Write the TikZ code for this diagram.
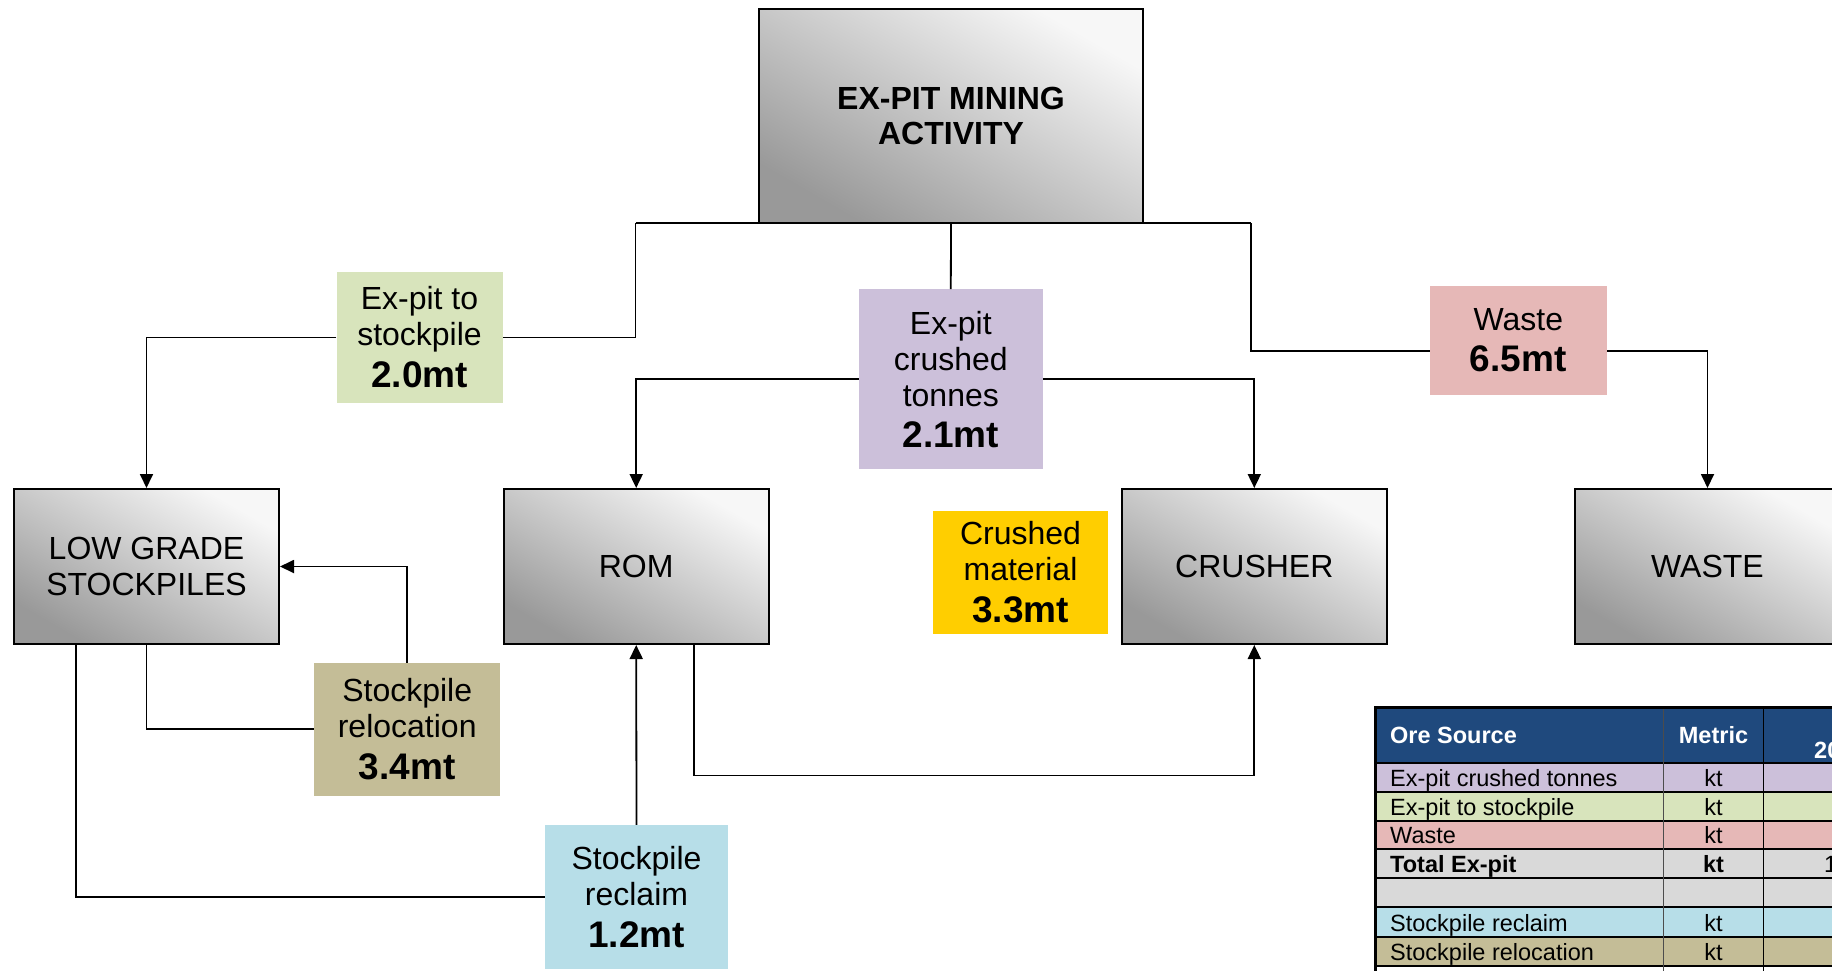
\documentclass[tikz,border=0pt]{standalone}
\usepackage{fontspec}
\setmainfont{Liberation Sans}
\usetikzlibrary{arrows.meta,calc}
\definecolor{cPurple}{RGB}{204,192,218}
\definecolor{cGreen}{RGB}{216,228,188}
\definecolor{cPink}{RGB}{230,184,183}
\definecolor{cYellow}{RGB}{255,206,0}
\definecolor{cTan}{RGB}{196,189,151}
\definecolor{cBlue}{RGB}{183,222,232}
\definecolor{cHead}{RGB}{31,73,125}
\definecolor{cGray}{RGB}{217,217,217}
\newcommand{\mtval}[1]{\textbf{\fontsize{37}{42}\selectfont #1}}
\begin{document}
\begin{tikzpicture}[x=1pt,y=-1pt,
  gbox/.style={draw=black, line width=2pt, shading=axis, top color=white!97!black,
    bottom color=black!40, shading angle=-30, minimum width=265pt, minimum height=155pt,
    inner sep=0pt, align=center, font=\fontsize{32}{36}\selectfont},
  lab/.style={inner sep=0pt, align=center, font=\fontsize{32}{36}\selectfont},
  conn/.style={draw=black, line width=1.8pt},
  arr/.style={conn, -{Triangle[length=14pt,width=13pt]}},
  tab/.style={inner sep=0pt, font=\fontsize{23.5}{28}\selectfont},
  tline/.style={draw=black, line width=1.6pt}
]
\useasboundingbox (0,0) rectangle (1832,970);
\clip (0,0) rectangle (1832,970);

% main boxes
\node[gbox, minimum width=384pt, minimum height=214pt, font=\bfseries\fontsize{32}{35}\selectfont]
  (top) at (951,116) {EX-PIT MINING\\ACTIVITY};
\node[gbox] (lgs) at (146.5,566.5) {LOW GRADE\\STOCKPILES};
\node[gbox] (rom) at (636.2,566.5) {ROM};
\node[gbox] (crusher) at (1254.3,566.5) {CRUSHER};
\node[gbox] (waste) at (1707.5,566.5) {WASTE};

% labels
\node[lab, fill=cGreen, minimum width=166pt, minimum height=131pt] (green) at (419.5,337.5)
  {Ex-pit to\\stockpile\\[6pt]\mtval{2.0mt}};
\node[lab, fill=cPurple, minimum width=184pt, minimum height=180pt] (purple) at (950.8,379.3)
  {Ex-pit\\crushed\\tonnes\\[5pt]\mtval{2.1mt}};
\node[lab, fill=cPink, minimum width=177pt, minimum height=109pt] (pink) at (1518.3,340.3)
  {Waste\\[5pt]\mtval{6.5mt}};
\node[lab, fill=cYellow, minimum width=175pt, minimum height=123pt] (yellow) at (1020.5,572.3)
  {Crushed\\material\\[6pt]\mtval{3.3mt}};
\node[lab, fill=cTan, minimum width=186pt, minimum height=133pt] (tan) at (407.2,729.3)
  {Stockpile\\relocation\\[6pt]\mtval{3.4mt}};
\node[lab, fill=cBlue, minimum width=183pt, minimum height=144pt] (blue) at (636.5,897)
  {Stockpile\\reclaim\\[6pt]\mtval{1.2mt}};

% connectors
\coordinate (tl) at (635.5,223);
\coordinate (tr) at (1251,223);
\coordinate (rcb) at (694,775.5);
\draw[conn] (tl) -- (tr);
\draw[conn] (top.south) -- (purple.north);
\draw[conn] (tl) |- (green.east);
\draw[arr] (green.west) -| (lgs.north);
\draw[conn] (tr) |- ([yshift=-11pt]pink.west);
\draw[arr] ([yshift=-11pt]pink.east) -| (waste.north);
\draw[arr] (purple.west) -| (rom.north);
\draw[arr] (purple.east) -| (crusher.north);
\draw[conn] (lgs.south) |- (tan.west);
\draw[arr] (tan.north) |- (lgs.east);
\draw[conn] ([xshift=-70.5pt]lgs.south) |- (blue.west);
\draw[arr] (blue.north) -- (rom.south);
\draw[arr] (rom.south -| rcb) -- (rcb) -| (crusher.south);

% table
\fill[cHead] (1375,707) rectangle (1900,763);
\fill[cPurple] (1375,763) rectangle (1900,792);
\fill[cGreen] (1375,792) rectangle (1900,821);
\fill[cPink] (1375,821) rectangle (1900,849);
\fill[cGray] (1375,849) rectangle (1900,907);
\fill[cBlue] (1375,907) rectangle (1900,937);
\fill[cTan] (1375,937) rectangle (1900,966);
\foreach \yy in {763,792,821,849,878,907,937,966}
  \draw[tline] (1375,\yy) -- (1900,\yy);
\draw[tline, draw=black!70] (1663.5,707) -- (1663.5,980);
\draw[tline] (1763.5,707) -- (1763.5,980);
\draw[draw=black, line width=3pt] (1375,980) -- (1375,707) -- (1900,707);

\node[tab, anchor=base west, text=white, font=\bfseries\fontsize{23.5}{28}\selectfont] (h1) at (1390,743) {Ore Source};
\node[tab, anchor=base, text=white, font=\bfseries\fontsize{23.5}{28}\selectfont] (h2) at (1713.5,743) {Metric};
\node[tab, anchor=base west, text=white, font=\bfseries\fontsize{23.5}{28}\selectfont] (h3) at (1814,758) {20};

\node[tab, anchor=base west] (r1) at (1390,786) {Ex-pit crushed tonnes};
\node[tab, anchor=base west] (r2) at (1390,815) {Ex-pit to stockpile};
\node[tab, anchor=base west] (r3) at (1390,843.5) {Waste};
\node[tab, anchor=base west, font=\bfseries\fontsize{23.5}{28}\selectfont] (r4) at (1390,872.5) {Total Ex-pit};
\node[tab, anchor=base west] (r6) at (1390,931) {Stockpile reclaim};
\node[tab, anchor=base west] (r7) at (1390,960) {Stockpile relocation};
\node[tab, anchor=base] (k1) at (1713.5,786) {kt};
\node[tab, anchor=base] (k2) at (1713.5,815) {kt};
\node[tab, anchor=base] (k3) at (1713.5,843.5) {kt};
\node[tab, anchor=base, font=\bfseries\fontsize{23.5}{28}\selectfont] (k4) at (1713.5,872.5) {kt};
\node[tab, anchor=base] (k6) at (1713.5,931) {kt};
\node[tab, anchor=base] (k7) at (1713.5,960) {kt};
\node[tab, anchor=base west] (v4) at (1824,872.5) {1};
\end{tikzpicture}
\end{document}
